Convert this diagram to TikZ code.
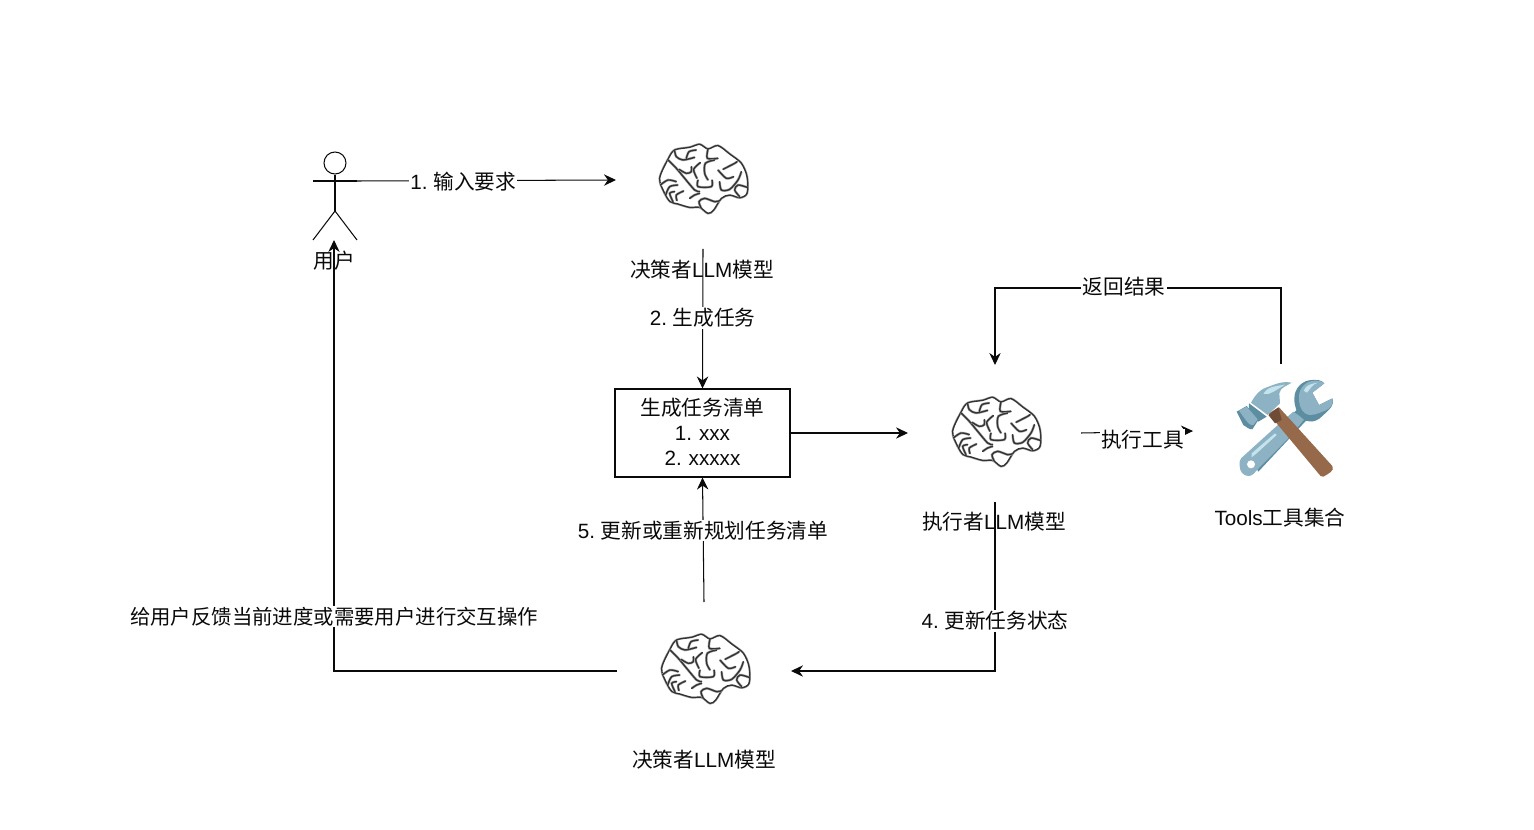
\documentclass[tikz,border=0pt]{standalone}
\usepackage{fontspec}
\setmainfont{Liberation Sans}
\newfontfamily\cjk{Noto Sans CJK SC}
\newcommand{\zh}[1]{{\cjk #1}}
\usetikzlibrary{arrows.meta}
\definecolor{ink}{HTML}{0A0A0A}
\definecolor{steel}{HTML}{8DB2C4}
\definecolor{steeldark}{HTML}{5C8DA1}
\definecolor{steellight}{HTML}{C4E3EC}
\definecolor{wood}{HTML}{96694A}
\definecolor{wooddark}{HTML}{6F4C36}
\definecolor{braininkc}{HTML}{333333}
\tikzset{
  lbl/.style={inner sep=1pt,font=\fontsize{15.5}{18.75}\selectfont\frenchspacing,text=ink,align=center},
  edgelbl/.style={lbl,fill=white,yshift=-0.6pt},
  conn/.style={draw=ink,line width=0.78pt},
  arrowed/.style={conn,-{Stealth[length=9pt,width=8.5pt]}},
  braindraw/.style={draw=braininkc,line width=1.05pt,line cap=round,line join=round,
    preaction={draw=black!32,line width=1.9pt}},
  brain/.pic={
    \begin{scope}[scale=1/3,shift={(-190,-150)}]
      \path[braindraw,fill=white] plot[smooth cycle,tension=0.5] coordinates {(60,145) (85,88) (105,60) (150,52) (180,43) (205,57) (235,47) (270,72) (305,100) (322,140) (322,190) (300,203) (270,195) (245,205) (222,240) (205,250) (180,232) (150,232) (115,222) (92,215) (75,190)};
      \path[braindraw] plot[smooth] coordinates {(205,57) (203,85) (235,85)};
      \path[braindraw] plot[smooth] coordinates {(85,90) (110,115) (135,145) (165,180) (180,185)};
      \path[braindraw] plot[smooth] coordinates {(105,62) (110,80) (130,90) (165,82)};
      \path[braindraw] plot[smooth] coordinates {(140,85) (148,65) (170,60)};
      \path[braindraw] plot[smooth] coordinates {(118,118) (140,130) (155,125) (155,110)};
      \path[braindraw] plot[smooth] coordinates {(182,98) (162,118) (172,145)};
      \path[braindraw] plot[smooth] coordinates {(225,90) (197,100) (195,130) (205,150)};
      \path[braindraw] plot[smooth] coordinates {(175,150) (175,170) (215,170) (217,150)};
      \path[braindraw] plot[smooth] coordinates {(235,120) (260,145) (282,140)};
      \path[braindraw] plot[smooth] coordinates {(250,118) (285,100) (292,95)};
      \path[braindraw] plot[smooth] coordinates {(305,125) (295,150) (270,178) (245,180) (240,155)};
      \path[braindraw] plot[smooth] coordinates {(322,172) (295,165) (285,180) (300,200)};
      \path[braindraw] plot[smooth] coordinates {(62,165) (85,150) (110,155)};
      \path[braindraw] plot[smooth] coordinates {(78,195) (90,170) (115,165)};
      \path[braindraw] plot[smooth] coordinates {(100,215) (90,190) (105,185)};
      \path[braindraw] plot[smooth] coordinates {(112,212) (110,195) (132,183)};
      \path[braindraw] plot[smooth] coordinates {(150,205) (165,195) (180,190)};
      \path[braindraw] plot[smooth] coordinates {(185,235) (178,215) (195,205) (225,215) (240,212)};
    \end{scope}
  }
}
\begin{document}
\begin{tikzpicture}[x=0.75pt,y=-0.75pt]
\useasboundingbox (0,0) rectangle (1534,830);
% brains
\pic at (703,180) {brain};
\pic at (996,433) {brain};
\pic at (705,670) {brain};
% actor
\coordinate (actorR) at (357,181);
\coordinate (actorFoot) at (334,240);
\node[circle,draw=ink,line width=0.78pt,minimum size=22pt*0.75,inner sep=0pt] (head) at (335,163) {};
\coordinate (hip) at (335,211);
\draw[conn] (head.south) -- (hip);
\draw[conn] (313,181) -- (actorR);
\draw[conn] (313,240) -- (hip) -- (357,240);
% tools icon
\begin{scope}[shift={(1225,370)},scale=1/3]
  % wrench handle
  \fill[steeldark] (70,250) -- (215,120) -- (245,150) -- (100,305) -- cycle;
  \fill[steel] (48,265) -- (155,168) -- (205,125) -- (238,148) -- (185,210) -- (98,298) to[out=225,in=0] (70,318) to[out=180,in=270] (44,288) to[out=90,in=225] cycle;
  \fill[white] (78,283) circle (12);
  \fill[steellight] (80,250) -- (150,190) -- (155,195) -- (95,250) to[out=225,in=45] (80,262) -- cycle;
  % wrench head
  \fill[steeldark] (262,30) to[out=180,in=90] (208,85) to[out=270,in=135] (232,145) to[out=-45,in=225] (290,140) to[out=45,in=-70] (322,85) -- (282,105) -- (262,68) -- (298,40) to[out=130,in=0] cycle;
  \fill[steel] (270,32) to[out=180,in=90] (222,80) to[out=270,in=140] (240,130) to[out=-30,in=200] (300,122) to[out=20,in=-80] (323,85) -- (282,105) -- (262,68) -- (298,40) to[out=140,in=0] cycle;
  \fill[steellight] (236,62) to[out=70,in=190] (278,38) to[out=200,in=50] (246,68) -- cycle;
  % hammer handle
  \fill[wood] (130,130) -- (162,112) -- (322,288) to[out=-60,in=30] (295,320) to[out=210,in=-45] (280,310) -- cycle;
  \fill[wooddark] (130,135) -- (160,112) -- (170,150) -- (150,160) -- cycle;
  % hammer head
  \fill[steeldark] (72,100) -- (125,140) -- (100,155) -- (70,135) -- cycle;
  \fill[steel] (78,98) to[out=60,in=200] (125,52) to[out=20,in=170] (200,38) to[out=215,in=80] (163,70) -- (165,100) -- (128,135) -- cycle;
  \fill[steellight] (115,72) to[out=60,in=190] (180,44) to[out=210,in=20] (130,72) -- cycle;
  \fill[steeldark] (35,125) -- (65,108) -- (100,150) -- (82,178) to[out=180,in=-30] (55,165) -- cycle;
  \fill[steel] (42,122) -- (65,110) -- (98,148) -- (85,165) to[out=190,in=-50] (62,150) -- cycle;
\end{scope}
% named ends
\node[draw=ink,line width=0.78pt,minimum width=175*0.75pt,minimum height=88*0.75pt,inner sep=0pt] (box) at (702.5,433) {};
\node[lbl,text width=170*0.75pt,yshift=0.6pt] at (box.center) {\zh{生成任务清单}\\1. xxx\\2. xxxxx};
\coordinate (b1in) at (616,180);
\coordinate (b1out) at (703,249);
\coordinate (b2in) at (908,433);
\coordinate (b2out) at (1081,433);
\coordinate (b2top) at (995,365);
\coordinate (b2bot) at (995,502);
\coordinate (toolsin) at (1193,431);
\coordinate (toolstop) at (1281,364);
\coordinate (cornerR) at (1281,288);
\coordinate (cornerL) at (995,288);
\coordinate (cornerB) at (995,671);
\coordinate (b3r) at (791,671);
\coordinate (b3l) at (617,671);
\coordinate (b3top) at (704,602);
% labels under icons
\node[lbl] (n1) at (702,270) {\zh{决策者}LLM\zh{模型}};
\node[lbl] (n2) at (994,522) {\zh{执行者}LLM\zh{模型}};
\node[lbl] (n3) at (704,760) {\zh{决策者}LLM\zh{模型}};
\node[lbl] (n4) at (1280,518) {Tools\zh{工具集合}};
\node[lbl] (n5) at (334,261) {\zh{用户}};
% connectors
\draw[arrowed] (actorR) -- node[edgelbl,pos=0.41] {1. \zh{输入要求}} (b1in);
\draw[arrowed] (b1out) -- node[edgelbl,pos=0.49] {2. \zh{生成任务}} (box.north);
\draw[arrowed] (box.east) -- (b2in);
\draw[arrowed] (b2out) -- node[edgelbl,pos=0.55,yshift=-5.2pt] {\zh{执行工具}} (toolsin);
\draw[arrowed] (toolstop) -- (cornerR) -- node[edgelbl,pos=0.549,yshift=1.5pt] {\zh{返回结果}} (cornerL) -- (b2top);
\draw[arrowed] (b2bot) -- node[edgelbl,pos=0.70] {4. \zh{更新任务状态}} (cornerB) -- (b3r);
\draw[arrowed] (b3top) -- node[edgelbl,pos=0.58] {5. \zh{更新或重新规划任务清单}} (box.south);
\draw[arrowed] (b3l) -| (actorFoot);
\node[edgelbl,font=\fontsize{15.3}{18}\selectfont,yshift=1pt] at (334,617) {\zh{给用户反馈当前进度或需要用户进行交互操作}};
\end{tikzpicture}
\end{document}
